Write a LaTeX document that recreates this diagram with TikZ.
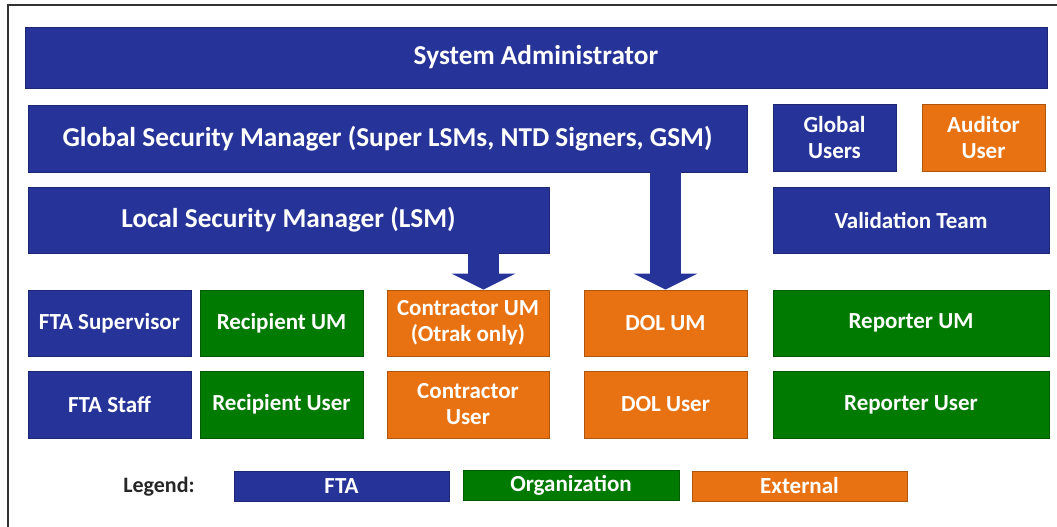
\documentclass[tikz,border=0pt]{standalone}
\usepackage{fontspec}
\setmainfont{Carlito}
\usetikzlibrary{arrows.meta,calc}
\definecolor{ftablue}{RGB}{38,51,152}
\definecolor{orggreen}{RGB}{0,122,0}
\definecolor{extorange}{RGB}{232,114,18}
\begin{document}
\begin{tikzpicture}[x=1pt,y=-1pt,
  rbox/.style={rectangle, inner sep=0pt, align=center, text=white, font=\bfseries\fontsize{23}{26}\selectfont, line width=0.8pt},
  fta/.style={rbox, fill=ftablue, draw=ftablue!75!black},
  org/.style={rbox, fill=orggreen, draw=orggreen!75!black},
  ext/.style={rbox, fill=extorange, draw=extorange!75!black},
  big/.style={font=\bfseries\fontsize{27.3}{30}\selectfont},
  fat/.style={line width=31pt, line cap=butt, draw=ftablue, -{Triangle[width=63pt,length=16pt,fill=ftablue]}},
  sz/.style 2 args={minimum width=#1pt, minimum height=#2pt}
]
\useasboundingbox (0,0) rectangle (1057,527);
\draw[line width=1.5pt, draw=black!80] (8,527) -- (8,5) -- (1057,5);

\node[fta,big,sz={1022}{61}] (sa) at (536,57.5) {System Administrator};
\node[fta,big,sz={719}{67}] (gsm) at (387.5,138.5) {Global Security Manager (Super LSMs, NTD Signers, GSM)};
\node[fta,big,sz={521}{66}] (lsm) at (288.5,220) {Local Security Manager (LSM)};
\node[fta,sz={123}{67}] (gu) at (834.5,137.5) {Global\\Users};
\node[ext,sz={123}{67}] (au) at (983.5,137.5) {Auditor\\User};
\node[fta,sz={276}{66}] (vt) at (911,220) {Validation Team};

\node[fta,sz={163}{66}] (ftasup) at (109.5,323) {FTA Supervisor};
\node[org,sz={163}{66}] (recum) at (281.5,323) {Recipient UM};
\node[ext,sz={162}{66}] (conum) at (468,323) {Contractor UM\\(Otrak only)};
\node[ext,sz={163}{66}] (dolum) at (665.5,323) {DOL UM};
\node[org,sz={276}{66}] (repum) at (911,323) {Reporter UM};

\node[fta,sz={163}{67}] (ftastaff) at (109.5,404.5) {FTA Staff};
\node[org,sz={163}{67}] (recuser) at (281.5,404.5) {Recipient User};
\node[ext,sz={162}{67}] (conuser) at (468,404.5) {Contractor\\User};
\node[ext,sz={163}{67}] (doluser) at (665.5,404.5) {DOL User};
\node[org,sz={276}{67}] (repuser) at (911,404.5) {Reporter User};

\node[font=\bfseries\fontsize{22}{24}\selectfont, text=black!85] (legend) at (159,487) {Legend:};
\node[fta,sz={215}{30}] (lfta) at (341.5,486) {FTA};
\node[org,sz={216}{30}] (lorg) at (571,485.5) {Organization};
\node[ext,sz={215}{30}] (lext) at (799.5,486) {External};

\coordinate (a1e) at ($(conum.north)+(15.5,0)$);
\draw[fat] (lsm.south -| a1e) -- (a1e);
\draw[fat] (gsm.south -| dolum.north) -- (dolum.north);
\end{tikzpicture}
\end{document}
